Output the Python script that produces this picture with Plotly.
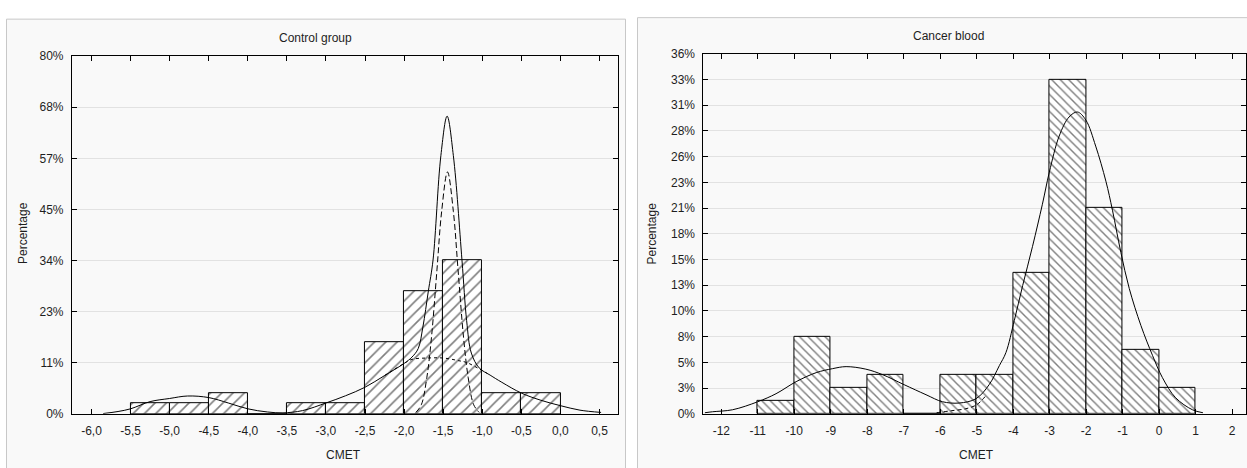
import plotly.graph_objects as go

W, H = 1247, 468

# ---------------- data: Control group ----------------
left_bin_centers = [-5.25, -4.75, -4.25, -3.75, -3.25, -2.75, -2.25, -1.75, -1.25, -0.75, -0.25]
left_bin_width = 0.5
left_pct = [2.27, 2.27, 4.55, 0.0, 2.27, 2.27, 15.91, 27.27, 34.09, 4.55, 4.55]

left_fit_x = [-5.85, -5.66, -5.5, -5.25, -5.0, -4.77, -4.5, -4.25, -4.0, -3.75, -3.55, -3.3, -3.0,
              -2.75, -2.5, -2.25, -2.0, -1.9, -1.82, -1.76, -1.69, -1.63, -1.53, -1.45, -1.37,
              -1.26, -1.2, -1.14, -1.04, -0.9, -0.75, -0.5, -0.25, 0.0, 0.25, 0.52]
left_fit_y = [0.05, 0.5, 1.1, 2.7, 3.4, 3.95, 3.6, 2.4, 1.1, 0.4, 0.2, 0.7, 2.4,
              4.0, 5.9, 8.5, 11.2, 12.6, 14.5, 19.3, 27.3, 34.2, 57.4, 66.2, 57.4,
              34.2, 20.7, 13.5, 10.2, 8.6, 7.0, 4.6, 3.0, 1.8, 0.8, 0.3]

left_comp1_x = [-1.85, -1.78, -1.71, -1.65, -1.58, -1.52, -1.445, -1.37, -1.31, -1.24, -1.18, -1.11, -1.04]
left_comp1_y = [0.3, 2.0, 8.0, 17.0, 32.0, 45.0, 53.8, 45.0, 32.0, 17.0, 8.0, 2.0, 0.3]

left_comp2_x = [-2.25, -2.0, -1.9, -1.7, -1.5, -1.3, -1.2, -1.03, -0.9]
left_comp2_y = [8.5, 11.2, 12.1, 12.4, 12.4, 11.8, 11.4, 9.9, 8.6]

left_xticks = [-6.0, -5.5, -5.0, -4.5, -4.0, -3.5, -3.0, -2.5, -2.0, -1.5, -1.0, -0.5, 0.0, 0.5]
left_xtext = ["-6,0", "-5,5", "-5,0", "-4,5", "-4,0", "-3,5", "-3,0", "-2,5", "-2,0", "-1,5",
              "-1,0", "-0,5", "0,0", "0,5"]
left_yticks = [0.0, 11.36, 22.73, 34.09, 45.45, 56.82, 68.18, 79.55]
left_ytext = ["0%", "11%", "23%", "34%", "45%", "57%", "68%", "80%"]

# ---------------- data: Cancer blood ----------------
right_bin_centers = [-10.5, -9.5, -8.5, -7.5, -6.5, -5.5, -4.5, -3.5, -2.5, -1.5, -0.5, 0.5]
right_bin_width = 1.0
right_pct = [1.28, 7.69, 2.56, 3.85, 0.0, 3.85, 3.85, 14.10, 33.33, 20.51, 6.41, 2.56]

right_fit_x = [-12.45, -12.24, -11.69, -11.0, -10.5, -9.95, -9.4, -8.95, -8.58, -8.04, -7.58, -6.99,
               -6.39, -5.94, -5.48, -5.02, -4.66, -4.38, -4.2, -3.97, -3.74, -3.47, -3.2, -3.01,
               -2.74, -2.47, -2.24, -2.01, -1.74, -1.46, -1.28, -1.05, -0.82, -0.5, -0.18, 0.09,
               0.45, 0.91, 1.2]
right_fit_y = [0.1, 0.2, 0.4, 1.2, 2.0, 3.2, 4.1, 4.5, 4.7, 4.45, 3.9, 2.9,
               1.9, 1.2, 1.07, 1.5, 2.9, 4.8, 6.1, 9.3, 12.8, 16.7, 20.9, 24.1,
               27.7, 29.6, 30.1, 29.3, 26.7, 23.2, 20.3, 16.1, 12.5, 8.8, 5.8, 3.6,
               1.6, 0.4, 0.1]

right_comp_x = [-6.1, -5.7, -5.3, -5.0, -4.75]
right_comp_y = [0.1, 0.3, 0.5, 0.9, 1.8]

right_xticks = list(range(-12, 3))
right_xtext = [str(v) for v in right_xticks]
right_yticks = [0.0, 2.56, 5.13, 7.69, 10.26, 12.82, 15.38, 17.95, 20.51, 23.08, 25.64, 28.21,
                30.77, 33.33, 35.90]
right_ytext = ["0%", "3%", "5%", "8%", "10%", "13%", "15%", "18%", "21%", "23%", "26%", "28%",
               "31%", "33%", "36%"]

# ---------------- figure ----------------
FONT = "Liberation Sans, Arial, sans-serif"
TXT = "#1e1e1e"
fig = go.Figure()

fig.add_trace(go.Bar(
    x=left_bin_centers, y=left_pct, width=left_bin_width,
    marker=dict(color="white", line=dict(color="black", width=1),
                pattern=dict(shape="/", fgcolor="black", bgcolor="white", size=8, solidity=0.2)),
    xaxis="x", yaxis="y", showlegend=False))
fig.add_trace(go.Scatter(x=left_comp2_x, y=left_comp2_y, mode="lines", line_shape="spline",
                         line=dict(color="black", width=1, dash="dot"),
                         xaxis="x", yaxis="y", showlegend=False))
fig.add_trace(go.Scatter(x=left_comp1_x, y=left_comp1_y, mode="lines", line_shape="spline",
                         line=dict(color="black", width=1, dash="6px,3px"),
                         xaxis="x", yaxis="y", showlegend=False))
fig.add_trace(go.Scatter(x=left_fit_x, y=left_fit_y, mode="lines", line_shape="spline",
                         line=dict(color="black", width=1),
                         xaxis="x", yaxis="y", showlegend=False))

fig.add_trace(go.Bar(
    x=right_bin_centers, y=right_pct, width=right_bin_width,
    marker=dict(color="white", line=dict(color="black", width=1),
                pattern=dict(shape="\\", fgcolor="black", bgcolor="white", size=6, solidity=0.24)),
    xaxis="x2", yaxis="y2", showlegend=False))
fig.add_trace(go.Scatter(x=right_comp_x, y=right_comp_y, mode="lines", line_shape="spline",
                         line=dict(color="black", width=1, dash="4px,3px"),
                         xaxis="x2", yaxis="y2", showlegend=False))
fig.add_trace(go.Scatter(x=right_fit_x, y=right_fit_y, mode="lines", line_shape="spline",
                         line=dict(color="black", width=1),
                         xaxis="x2", yaxis="y2", showlegend=False))

axis_common = dict(showline=True, linecolor="black", linewidth=1, mirror="ticks",
                   ticks="inside", ticklen=5, tickcolor="black", zeroline=False,
                   tickfont=dict(family=FONT, size=12, color=TXT))

def py(px):
    return 1 - px / H

def pxx(px):
    return px / W

fig.update_layout(
    width=W, height=H, margin=dict(l=0, r=0, t=0, b=0),
    paper_bgcolor="white", plot_bgcolor="white", bargap=0,
    xaxis=dict(domain=[pxx(72), pxx(618)], range=[-6.25, 0.73], tickmode="array",
               tickvals=left_xticks, ticktext=left_xtext, showgrid=False,
               ticklabelstandoff=6, anchor="y", **axis_common),
    yaxis=dict(domain=[py(419.3), py(50.7)], range=[0, 79.55], tickmode="array",
               tickvals=left_yticks, ticktext=left_ytext, showgrid=True,
               gridcolor="#e2e2e2", gridwidth=1, ticklabelstandoff=5, anchor="x", **axis_common),
    xaxis2=dict(domain=[pxx(704), 1.0], range=[-12.49, 2.38], tickmode="array",
                tickvals=right_xticks, ticktext=right_xtext, showgrid=False,
                ticklabelstandoff=6, anchor="y2", **axis_common),
    yaxis2=dict(domain=[py(419.3), py(48.3)], range=[0, 35.90], tickmode="array",
                tickvals=right_yticks, ticktext=right_ytext, showgrid=True,
                gridcolor="#e2e2e2", gridwidth=1, ticklabelstandoff=5, anchor="x2", **axis_common),
    shapes=[
        dict(type="rect", xref="paper", yref="paper", x0=pxx(6.5), x1=pxx(626), y0=-0.02, y1=py(12.5),
             fillcolor="#f9f9f9", line=dict(color="#c8c8c8", width=1), layer="below"),
        dict(type="rect", xref="paper", yref="paper", x0=pxx(638), x1=1.02, y0=-0.02, y1=py(11),
             fillcolor="#f9f9f9", line=dict(color="#c8c8c8", width=1), layer="below"),
    ],
    annotations=[
        dict(text="Control group", x=pxx(316), y=py(31.7), xref="paper", yref="paper",
             showarrow=False, xanchor="center", yanchor="middle",
             font=dict(family=FONT, size=12, color=TXT)),
        dict(text="Cancer blood", x=pxx(949), y=py(30), xref="paper", yref="paper",
             showarrow=False, xanchor="center", yanchor="middle",
             font=dict(family=FONT, size=12, color=TXT)),
        dict(text="Percentage", x=pxx(23), y=py(233), xref="paper", yref="paper", textangle=-90,
             showarrow=False, xanchor="center", yanchor="middle",
             font=dict(family=FONT, size=12, color=TXT)),
        dict(text="Percentage", x=pxx(653), y=py(233), xref="paper", yref="paper", textangle=-90,
             showarrow=False, xanchor="center", yanchor="middle",
             font=dict(family=FONT, size=12, color=TXT)),
        dict(text="CMET", x=pxx(344), y=py(461.7), xref="paper", yref="paper",
             showarrow=False, xanchor="center", yanchor="middle",
             font=dict(family=FONT, size=12, color=TXT)),
        dict(text="CMET", x=pxx(977), y=py(461.7), xref="paper", yref="paper",
             showarrow=False, xanchor="center", yanchor="middle",
             font=dict(family=FONT, size=12, color=TXT)),
    ],
)

fig.write_html("out.html")
